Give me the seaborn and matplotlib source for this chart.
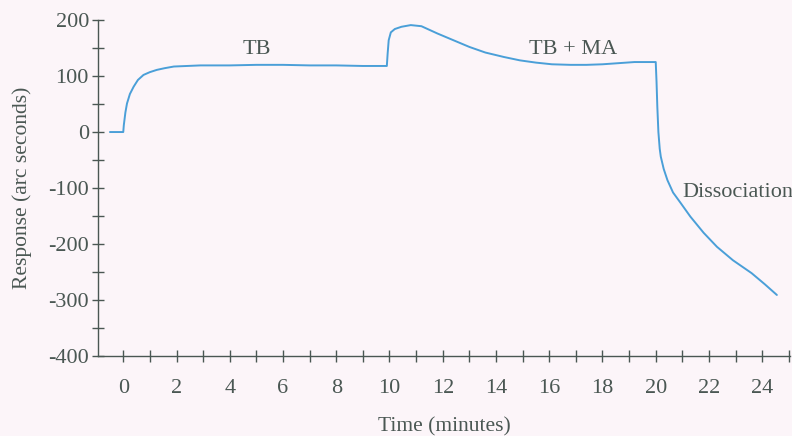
import numpy as np
import pandas as pd
import seaborn as sns
import matplotlib.pyplot as plt
from matplotlib.ticker import MultipleLocator

# Sensorgram readings: time (minutes) and response (arc seconds)
time_min = [-0.5, 0.0, 0.02, 0.08, 0.14, 0.25, 0.39, 0.55, 0.76, 1.0, 1.26, 1.55, 1.9, 2.4, 2.9,
            4.0, 5.0, 6.0, 7.0, 8.0, 9.0, 9.9, 9.93, 9.97, 10.05, 10.2, 10.45, 10.8, 11.2,
            11.8, 12.4, 13.0, 13.6, 14.3, 14.9, 15.5, 16.1, 16.8, 17.4, 18.0, 18.6, 19.2,
            19.6, 20.0, 20.03, 20.06, 20.1, 20.15, 20.19, 20.3, 20.44, 20.65, 20.94, 21.3,
            21.8, 22.3, 22.9, 23.6, 24.1, 24.55]
response = [0, 0, 12, 35, 51, 68, 81, 93, 102, 107, 111, 114, 117, 118, 119,
            119, 120, 120, 119, 119, 118, 118, 140, 164, 178, 184, 188, 191, 189,
            176, 164, 152, 142, 134, 128, 124, 121, 120, 120, 121, 123, 125,
            125, 125, 90, 45, 0, -30, -44, -66, -86, -108, -127, -151,
            -180, -205, -229, -252, -272, -291]

x_ticks = list(range(0, 25, 2))
y_ticks = [-400, -300, -200, -100, 0, 100, 200]
annotations = [("TB", 5.0, 148, "center"), ("TB + MA", 16.9, 148, "center"),
               ("Dissociation", 21.0, -108, "left")]

bg = "#fcf5f9"
ink = "#4a5753"
line_color = "#4a9fd8"

sns.set_theme(style="ticks")
plt.rcParams["font.family"] = ["Liberation Serif", "DejaVu Serif"]
plt.rcParams["axes.unicode_minus"] = False

df = pd.DataFrame({"Time": time_min, "Response": response})

fig = plt.figure(figsize=(7.92, 4.36), dpi=100, facecolor=bg)
ax = fig.add_axes([0.1237, 0.1835, 0.874, 0.7705], facecolor=bg)

sns.lineplot(data=df, x="Time", y="Response", sort=False, estimator=None,
             color=line_color, linewidth=1.4, ax=ax)

ax.set_xlim(-0.95, 25.05)
ax.set_ylim(-400, 200)
ax.set_xticks(x_ticks)
ax.set_yticks(y_ticks)
ax.xaxis.set_minor_locator(MultipleLocator(1))
ax.yaxis.set_minor_locator(MultipleLocator(50))
ax.tick_params(which="both", direction="inout", length=9, width=1.0,
               color=ink, labelcolor=ink, labelsize=16)
ax.tick_params(axis="x", which="both", pad=12)
ax.tick_params(axis="y", which="both", pad=2)

for side in ("top", "right"):
    ax.spines[side].set_visible(False)
for side in ("left", "bottom"):
    ax.spines[side].set_color(ink)
    ax.spines[side].set_linewidth(1.0)

ax.set_xlabel("Time (minutes)", fontsize=15.5, color=ink, labelpad=14)
ax.set_ylabel("Response (arc seconds)", fontsize=15.5, color=ink, labelpad=12)

for text, tx, ty, align in annotations:
    ax.text(tx, ty, text, fontsize=16, color=ink, ha=align, va="center")

fig.savefig("out.png", dpi=100, facecolor=bg)
